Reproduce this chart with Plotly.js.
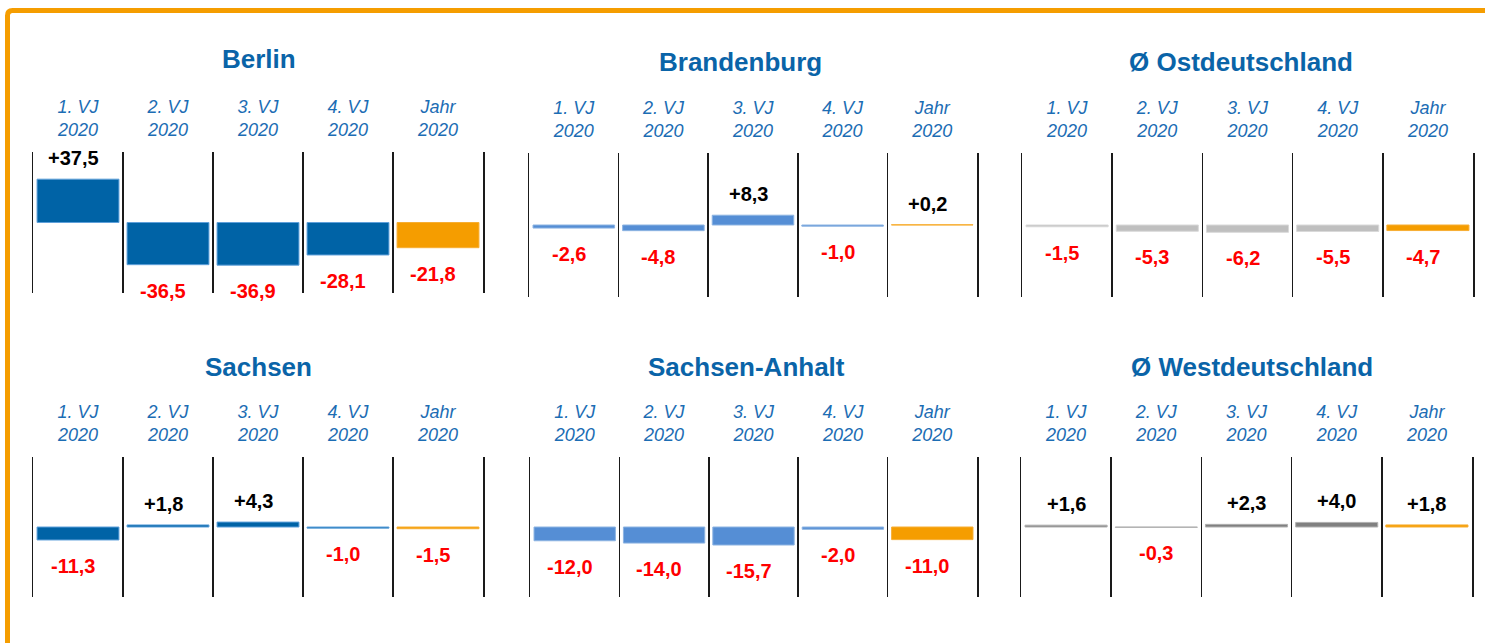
<!DOCTYPE html>
<html>
<head>
<meta charset="utf-8">
<script src="https://cdn.plot.ly/plotly-3.0.1.min.js"></script>
<style>html,body{margin:0;padding:0;background:#fff;}#chart{width:1485px;height:643px;}</style>
</head>
<body>
<div id="chart"></div>
<script>
// ---- data ----
const categories = ["1. VJ<br>2020", "2. VJ<br>2020", "3. VJ<br>2020", "4. VJ<br>2020", "Jahr<br>2020"];
const regions = ["Berlin", "Brandenburg", "Ø Ostdeutschland", "Sachsen", "Sachsen-Anhalt", "Ø Westdeutschland"];
const berlin = [37.5, -36.5, -36.9, -28.1, -21.8];
const brandenburg = [-2.6, -4.8, 8.3, -1.0, 0.2];
const ostdeutschland = [-1.5, -5.3, -6.2, -5.5, -4.7];
const sachsen = [-11.3, 1.8, 4.3, -1.0, -1.5];
const sachsenAnhalt = [-12.0, -14.0, -15.7, -2.0, -11.0];
const westdeutschland = [1.6, -0.3, 2.3, 4.0, 1.8];
const seriesList = [berlin, brandenburg, ostdeutschland, sachsen, sachsenAnhalt, westdeutschland];

// ---- style / layout (pixels) ----
const W = 1485, H = 643;
const ORANGE = '#F59D00', ORANGE_EDGE = '#F7AE33';
const panels = [
  {x0: 33,   x1: 483,  y0: 152, y1: 293, tx: 259,  ty: 59,  fill: '#0063A6', edge: '#5FA0DA', lx: -5},
  {x0: 529,  x1: 977,  y0: 153, y1: 297, tx: 740,  ty: 62,  fill: '#558ED5', edge: '#8DB4E2', lx: -5},
  {x0: 1022, x1: 1473, y0: 153, y1: 297, tx: 1241, ty: 62,  fill: '#BFBFBF', edge: '#D9D9D9', lx: -5},
  {x0: 33,   x1: 483,  y0: 457, y1: 597, tx: 258,  ty: 367, fill: '#0063A6', edge: '#5FA0DA', lx: -5},
  {x0: 530,  x1: 977,  y0: 457, y1: 597, tx: 746,  ty: 367, fill: '#558ED5', edge: '#8DB4E2', lx: -5},
  {x0: 1021, x1: 1472, y0: 457, y1: 597, tx: 1252, ty: 367, fill: '#808080', edge: '#B0B0B0', lx: 0}
];
const FONT = 'Arial, "Liberation Sans", Helvetica, sans-serif';
const YR = 61;

function fmt(v) {
  return (v > 0 ? '+' : '') + v.toFixed(1).replace('.', ',');
}

const traces = [];
const annotations = [];
const layout = {
  width: W, height: H,
  margin: {l: 0, r: 0, t: 0, b: 0},
  paper_bgcolor: '#fff', plot_bgcolor: 'rgba(0,0,0,0)',
  showlegend: false,
  font: {family: FONT},
  annotations: annotations,
  shapes: [{
    type: 'path', xref: 'paper', yref: 'paper',
    path: 'M ' + (7.5 / W) + ',-0.1 L ' + (7.5 / W) + ',' + (1 - 15.5 / H) +
          ' Q ' + (7.5 / W) + ',' + (1 - 10.5 / H) + ' ' + (12.5 / W) + ',' + (1 - 10.5 / H) +
          ' L 1.1,' + (1 - 10.5 / H),
    line: {color: ORANGE, width: 5}
  }]
};

panels.forEach((p, i) => {
  const n = i + 1;
  const xa = 'x' + (n === 1 ? '' : n), ya = 'y' + (n === 1 ? '' : n);
  const vals = seriesList[i];
  const colors = vals.map((v, k) => k === 4 ? ORANGE : p.fill);
  const edges = vals.map((v, k) => k === 4 ? ORANGE_EDGE : p.edge);
  traces.push({
    type: 'bar', x: categories, y: vals, xaxis: xa, yaxis: ya,
    width: 0.91,
    marker: {color: colors, line: {color: edges, width: 1}},
    hoverinfo: 'skip'
  });
  layout['xaxis' + (n === 1 ? '' : n)] = {
    domain: [p.x0 / W, p.x1 / W], anchor: ya,
    type: 'category', categoryorder: 'array', categoryarray: categories,
    range: [-0.5, 4.5], side: 'top', tickson: 'boundaries',
    showgrid: true, gridcolor: '#1a1a1a', gridwidth: 1.5,
    zeroline: false, showline: false, ticks: '',
    ticklabelstandoff: 11,
    tickfont: {family: FONT, size: 18, color: '#1C6DB4', style: 'italic'},
    fixedrange: true
  };
  layout['yaxis' + (n === 1 ? '' : n)] = {
    domain: [1 - p.y1 / H, 1 - p.y0 / H], anchor: xa,
    range: [-YR, YR], showgrid: false, zeroline: false, showticklabels: false,
    showline: true, mirror: true, linecolor: '#1a1a1a', linewidth: 1.5, ticks: '',
    fixedrange: true
  };
  // panel title
  annotations.push({
    xref: 'paper', yref: 'paper', x: p.tx / W, y: 1 - p.ty / H,
    xanchor: 'center', yanchor: 'middle', showarrow: false,
    text: regions[i],
    font: {family: FONT, size: 26, color: '#0A64A8', weight: 'bold'}
  });
  // value labels
  vals.forEach((v, k) => {
    annotations.push({
      xref: xa, yref: ya, x: categories[k], y: v,
      xanchor: 'center', yanchor: 'middle', showarrow: false,
      xshift: p.lx, yshift: v > 0 ? 21 : -26,
      text: fmt(v),
      font: {family: FONT, size: 20, color: v > 0 ? '#000000' : '#FF0000', weight: 'bold'}
    });
  });
});

Plotly.newPlot('chart', traces, layout, {displayModeBar: false, staticPlot: true});
</script>
</body>
</html>
